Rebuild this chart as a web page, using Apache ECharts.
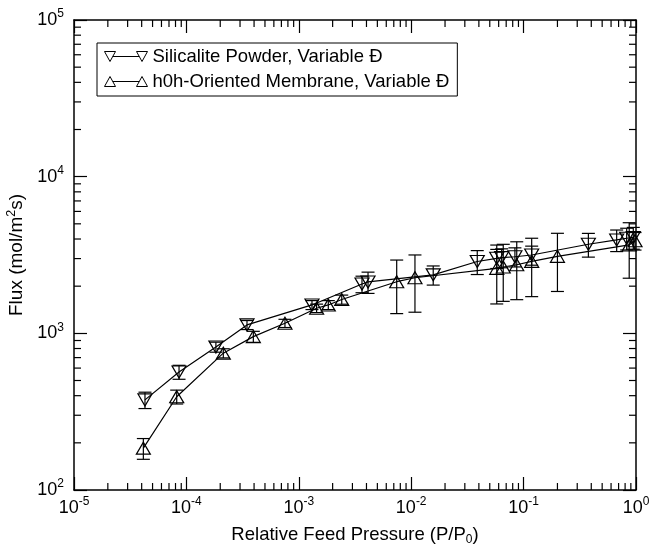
<!DOCTYPE html>
<html><head><meta charset="utf-8">
<script src="https://cdn.jsdelivr.net/npm/echarts@6/dist/echarts.min.js"></script>
<style>html,body{margin:0;padding:0;background:#fff}#c{width:651px;height:544px}</style>
</head><body><div id="c"></div>
<script>
// ---- data ----
const silName = 'Silicalite Powder, Variable Đ';
const silX   = [4.28e-5, 8.6e-5, 1.83e-4, 3.46e-4, 1.31e-3, 3.65e-3, 4.13e-3, 1.57e-2, 3.87e-2, 5.77e-2, 6.38e-2, 8.37e-2, 0.118, 0.377, 0.673, 0.826, 0.946];
const silY   = [376, 567, 818, 1132, 1518, 2066, 2128, 2362, 2873, 3013, 3041, 3083, 3162, 3705, 3945, 4046, 4093];
const silErr = [45, 58, 60, 75, 100, 250, 330, 330, 500, 420, 420, 430, 440, 640, 620, 640, 650];

const memName = 'h0h-Oriented Membrane, Variable Đ';
const memX   = [4.14e-5, 8.2e-5, 2.13e-4, 3.94e-4, 7.53e-4, 1.44e-3, 1.83e-3, 2.41e-3, 7.43e-3, 1.08e-2, 5.77e-2, 6.59e-2, 8.69e-2, 0.118, 0.2, 0.87, 0.98];
const memY   = [185, 394, 747, 953, 1159, 1446, 1518, 1644, 2136, 2264, 2600, 2650, 2740, 2880, 3100, 3665, 3900];
const memErr = [28, 40, 50, 77, 70, 90, 100, 110, 800, 900, 1060, 1050, 1100, 1165, 1250, 1417, 500];

const xMin = 1e-5, xMax = 1;
const yMin = 1e2, yMax = 1e5;
const xTitle = 'Relative Feed Pressure (P/P{sub|0})';
const yTitle = 'Flux (mol/m{sup|2}s)';

// ---- helpers ----
const FONT = '"Liberation Sans", Arial, Helvetica, sans-serif';
const zip = (a, b) => a.map((v, i) => [v, b[i]]);
const zip3 = (a, b, c) => a.map((v, i) => [v, b[i], c[i]]);
function minorVals(lo, hi) {
  const out = [];
  for (let e = Math.round(Math.log10(lo)); e < Math.round(Math.log10(hi)); e++)
    for (let m = 2; m <= 9; m++) out.push(m * Math.pow(10, e));
  return out;
}
const xMinor = minorVals(xMin, xMax);
const yMinor = minorVals(yMin, yMax);

const LW = 1.2;
const MINOR_LEN = 7;
const lineStyleBlack = { stroke: '#000', lineWidth: LW };

function renderErr(params, api) {
  const x = api.value(0), y = api.value(1), e = api.value(2);
  const top = api.coord([x, y + e]), bot = api.coord([x, y - e]);
  const w = 6.5;
  return { type: 'group', children: [
    { type: 'line', shape: { x1: top[0], y1: top[1], x2: bot[0], y2: bot[1] }, style: lineStyleBlack },
    { type: 'line', shape: { x1: top[0] - w, y1: top[1], x2: top[0] + w, y2: top[1] }, style: lineStyleBlack },
    { type: 'line', shape: { x1: bot[0] - w, y1: bot[1], x2: bot[0] + w, y2: bot[1] }, style: lineStyleBlack }
  ]};
}
function renderXMinor(params, api) {
  const v = api.value(0);
  const b = api.coord([v, yMin]), t = api.coord([v, yMax]);
  return { type: 'group', children: [
    { type: 'line', shape: { x1: b[0], y1: b[1], x2: b[0], y2: b[1] - MINOR_LEN }, style: lineStyleBlack },
    { type: 'line', shape: { x1: t[0], y1: t[1], x2: t[0], y2: t[1] + MINOR_LEN }, style: lineStyleBlack }
  ]};
}
function renderYMinor(params, api) {
  const v = api.value(1);
  const l = api.coord([xMin, v]), r = api.coord([xMax, v]);
  return { type: 'group', children: [
    { type: 'line', shape: { x1: l[0], y1: l[1], x2: l[0] + MINOR_LEN, y2: l[1] }, style: lineStyleBlack },
    { type: 'line', shape: { x1: r[0], y1: r[1], x2: r[0] - MINOR_LEN, y2: r[1] }, style: lineStyleBlack }
  ]};
}

const powLabel = {
  formatter: v => '{b|10}{s|' + Math.round(Math.log10(v)) + '}',
  rich: {
    b: { fontSize: 18, lineHeight: 20, fontFamily: FONT, color: '#000' },
    s: { fontSize: 12, lineHeight: 12, padding: [0, 0, 12, 0], fontFamily: FONT, color: '#000' }
  }
};
const axisLineStyle = { show: true, lineStyle: { color: '#000', width: 1.5 } };
const majorTick = { show: true, inside: true, length: 13, lineStyle: { color: '#000', width: LW } };

const triStyle = { color: 'rgba(0,0,0,0)', borderColor: '#000', borderWidth: LW };
const downIcon = 'path://M0,0L11,0L5.5,10Z M8.25,5L34.75,5 M32,0L43,0L37.5,10Z';
const upIcon   = 'path://M0,10L11,10L5.5,0Z M8.25,5L34.75,5 M32,10L43,10L37.5,0Z';

const option = {
  animation: false,
  backgroundColor: '#fff',
  grid: { left: 74, right: 15, top: 20, bottom: 54, containLabel: false, outerBoundsMode: 'none' },
  legend: {
    orient: 'vertical', left: 97, top: 43,
    padding: [4, 8, 5, 7], itemGap: 6,
    itemWidth: 43, itemHeight: 10,
    backgroundColor: '#fff', borderColor: '#000', borderWidth: 1, borderRadius: 0,
    textStyle: { fontSize: 18.5, lineHeight: 18, fontFamily: FONT, color: '#000' },
    selectedMode: false,
    data: [
      { name: silName, icon: downIcon, itemStyle: { color: 'rgba(0,0,0,0)', borderColor: '#000', borderWidth: 1 } },
      { name: memName, icon: upIcon, itemStyle: { color: 'rgba(0,0,0,0)', borderColor: '#000', borderWidth: 1 } }
    ]
  },
  xAxis: [
    { type: 'log', logBase: 10, min: xMin, max: xMax, position: 'bottom',
      axisLine: axisLineStyle, axisTick: majorTick, splitLine: { show: false },
      axisLabel: Object.assign({ margin: 8, showMinLabel: true, showMaxLabel: true, hideOverlap: false }, powLabel),
      name: xTitle, nameLocation: 'middle', nameGap: 34,
      nameTextStyle: { fontSize: 18.5, fontFamily: FONT, color: '#000',
        rich: { sub: { fontSize: 12, fontFamily: FONT, color: '#000', padding: [10, 0, 0, 0] } } } },
    { type: 'log', logBase: 10, min: xMin, max: xMax, position: 'top',
      axisLine: axisLineStyle, axisTick: majorTick, splitLine: { show: false }, axisLabel: { show: false } }
  ],
  yAxis: [
    { type: 'log', logBase: 10, min: yMin, max: yMax, position: 'left',
      axisLine: axisLineStyle, axisTick: majorTick, splitLine: { show: false },
      axisLabel: Object.assign({ margin: 10, showMinLabel: true, showMaxLabel: true, hideOverlap: false }, powLabel),
      name: yTitle, nameLocation: 'middle', nameGap: 41, nameRotate: 90,
      nameTextStyle: { fontSize: 19, fontFamily: FONT, color: '#000',
        rich: { sup: { fontSize: 12.5, fontFamily: FONT, color: '#000', padding: [0, 0, 10, 0] } } } },
    { type: 'log', logBase: 10, min: yMin, max: yMax, position: 'right',
      axisLine: axisLineStyle, axisTick: majorTick, splitLine: { show: false }, axisLabel: { show: false } }
  ],
  series: [
    { type: 'custom', name: 'xminor', renderItem: renderXMinor, data: xMinor.map(v => [v, yMin]), silent: true, clip: false, z: 1 },
    { type: 'custom', name: 'yminor', renderItem: renderYMinor, data: yMinor.map(v => [xMin, v]), silent: true, clip: false, z: 1 },
    { type: 'custom', name: 'silErr', renderItem: renderErr, data: zip3(silX, silY, silErr), encode: { x: 0, y: 1 }, silent: true, z: 2 },
    { type: 'custom', name: 'memErr', renderItem: renderErr, data: zip3(memX, memY, memErr), encode: { x: 0, y: 1 }, silent: true, z: 2 },
    { type: 'line', name: silName, data: zip(silX, silY), symbol: 'triangle', symbolRotate: 180, symbolSize: [14, 12],
      itemStyle: triStyle, lineStyle: { color: '#000', width: LW }, z: 3 },
    { type: 'line', name: memName, data: zip(memX, memY), symbol: 'triangle', symbolSize: [14, 12],
      itemStyle: triStyle, lineStyle: { color: '#000', width: LW }, z: 3 }
  ]
};
const chart = echarts.init(document.getElementById('c'), null, { renderer: 'canvas' });
chart.setOption(option);
</script>
</body></html>
